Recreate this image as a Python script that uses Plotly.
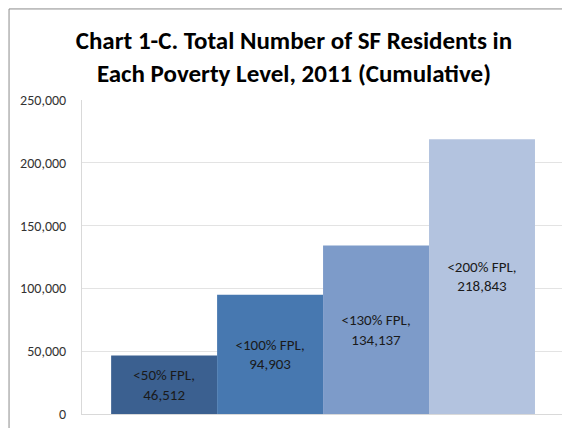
import plotly.graph_objects as go

# data
levels = ['<50% FPL', '<100% FPL', '<130% FPL', '<200% FPL']
residents = [46512, 94903, 134137, 218843]
bar_colors = ['#3B6090', '#4778B0', '#7D9BC9', '#B3C3DF']

labels = [f'{lv},<br>{v:,}' for lv, v in zip(levels, residents)]

fig = go.Figure()
fig.add_trace(go.Bar(
    x=list(range(len(levels))),
    y=residents,
    width=1,
    marker=dict(color=bar_colors, line=dict(width=0)),
    text=labels,
    textposition='inside',
    insidetextanchor='middle',
    textangle=0,
    textfont=dict(family='Carlito, Lato, sans-serif', size=15, color='#1a1a1a'),
    hoverinfo='skip',
))

fig.update_layout(
    width=562, height=428,
    margin=dict(l=82, r=0, t=100, b=14),
    paper_bgcolor='white',
    plot_bgcolor='white',
    showlegend=False,
    title=dict(
        text='<b>Chart 1-C. Total Number of SF Residents in<br>Each Poverty Level, 2011 (Cumulative)</b>',
        x=0.523, xanchor='center', y=0.885, yanchor='middle',
        font=dict(family='Carlito, Lato, sans-serif', size=25, color='#000000'),
    ),
    xaxis=dict(
        range=[-0.775, 3.755], showticklabels=False, showgrid=False,
        zeroline=False, showline=True, linecolor='#d9d9d9', linewidth=1,
        fixedrange=True,
    ),
    yaxis=dict(
        range=[0, 250000], tickvals=[0, 50000, 100000, 150000, 200000, 250000],
        tickformat=',', showgrid=True, gridcolor='#e3e3e3', gridwidth=1,
        zeroline=False, showline=True, linecolor='#d9d9d9', linewidth=1,
        ticks='', ticklabelstandoff=12,
        tickfont=dict(family='Carlito, Lato, sans-serif', size=14, color='#333333'),
    ),
    shapes=[
        # outer chart-area border (left and top edges only are visible)
        dict(type='line', xref='paper', yref='paper',
             x0=-0.152, x1=-0.152, y0=-0.1, y1=1.29,
             line=dict(color='#8c8c8c', width=1)),
        dict(type='line', xref='paper', yref='paper',
             x0=-0.152, x1=1.0, y0=1.29, y1=1.29,
             line=dict(color='#8c8c8c', width=1)),
    ],
)

fig.write_html('out.html', config={'displayModeBar': False},
               post_script="document.body.style.margin='0';"
                           "document.body.style.overflow='hidden';")
